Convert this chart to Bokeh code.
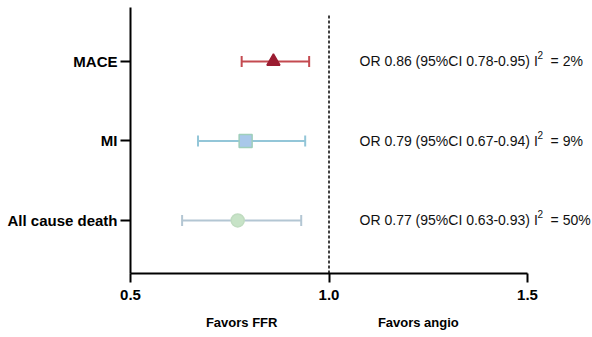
from bokeh.plotting import figure
from bokeh.models import (Label, Whisker, ColumnDataSource, FixedTicker, NumeralTickFormatter,
                          TeeHead, LinearAxis)
from bokeh.embed import file_html
from bokeh.resources import INLINE

outcomes = ["MACE", "MI", "All cause death"]
odds = [0.86, 0.79, 0.77]
lower = [0.78, 0.67, 0.63]
upper = [0.95, 0.94, 0.93]
i2 = [2, 9, 50]
rows = [3, 2, 1]
x_ticks = [0.5, 1.0, 1.5]
markers = ["triangle", "square", "circle"]
fill_colors = ["#9b1c31", "#a9c8ea", "#c7e3c7"]
edge_colors = ["#9b1c31", "#9fcfbb", "#c0dcc0"]
bar_colors = ["#c44a50", "#93c6d8", "#b3c6d3"]
favors = ["Favors FFR", "Favors angio"]
favors_x = [0.78, 1.225]

FONT = "Liberation Sans"

p = figure(width=592, height=337, x_range=(0.5, 1.6637), y_range=(0.333, 3.679),
           output_backend="svg", toolbar_location=None,
           min_border_left=130, min_border_right=0, min_border_top=7, min_border_bottom=64)
p.outline_line_color = None
p.xgrid.visible = False
p.ygrid.visible = False
p.background_fill_color = "white"
p.border_fill_color = "white"

for ax in (p.xaxis[0], p.yaxis[0]):
    ax.axis_line_width = 2
    ax.axis_line_color = "black"
    ax.major_tick_line_width = 2
    ax.major_tick_line_color = "black"
    ax.major_tick_in = 0
    ax.minor_tick_line_color = None
    ax.major_label_text_font = FONT
    ax.major_label_text_font_style = "bold"
    ax.major_label_text_font_size = "15px"
    ax.major_label_text_color = "black"

p.xaxis.ticker = FixedTicker(ticks=x_ticks)
p.xaxis.formatter = NumeralTickFormatter(format="0.0")
p.xaxis.bounds = (x_ticks[0], x_ticks[-1])
p.xaxis.major_tick_out = 9
p.xaxis.major_label_standoff = 7

p.yaxis.ticker = FixedTicker(ticks=rows)
p.yaxis.major_label_overrides = {r: o for r, o in zip(rows, outcomes)}
p.yaxis.major_tick_out = 10
p.yaxis.major_label_standoff = 3

# second axis below carrying the "Favors" captions
fav_axis = LinearAxis(ticker=FixedTicker(ticks=favors_x),
                      major_label_overrides={fx: t for fx, t in zip(favors_x, favors)},
                      axis_line_color=None, major_tick_line_color=None,
                      minor_tick_line_color=None, major_tick_in=0, major_tick_out=0,
                      major_label_standoff=12,
                      major_label_text_font=FONT, major_label_text_font_style="bold",
                      major_label_text_font_size="13px", major_label_text_color="black")
p.add_layout(fav_axis, "below")

# reference line at OR = 1
p.segment(x0=[1.0], y0=[0.333], x1=[1.0], y1=[3.6], line_color="black",
          line_width=1.5, line_dash="3 2")

for i in range(3):
    src = ColumnDataSource(dict(base=[rows[i]], lo=[lower[i]], hi=[upper[i]]))
    w = Whisker(source=src, base="base", lower="lo", upper="hi", dimension="width",
                line_color=bar_colors[i], line_width=2,
                lower_head=TeeHead(size=11, line_color=bar_colors[i], line_width=2),
                upper_head=TeeHead(size=11, line_color=bar_colors[i], line_width=2))
    p.add_layout(w)
    p.scatter(x=[odds[i]], y=[rows[i]], marker=markers[i], size=13,
              fill_color=fill_colors[i], line_color=edge_colors[i], line_width=1.5)

    main = f"OR {odds[i]:.2f} (95%CI {lower[i]:.2f}-{upper[i]:.2f}) I"
    p.add_layout(Label(x=1.077, y=rows[i], text=main, text_baseline="middle",
                       text_font=FONT, text_font_size="14px", text_color="#111111"))
    p.add_layout(Label(x=1.077, y=rows[i], x_offset=178, y_offset=6, text="2",
                       text_baseline="middle", text_font=FONT, text_font_size="10px",
                       text_color="#111111"))
    p.add_layout(Label(x=1.077, y=rows[i], x_offset=191, text=f"= {i2[i]}%",
                       text_baseline="middle", text_font=FONT, text_font_size="14px",
                       text_color="#111111"))

open("out.html", "w").write(file_html(p, INLINE))
